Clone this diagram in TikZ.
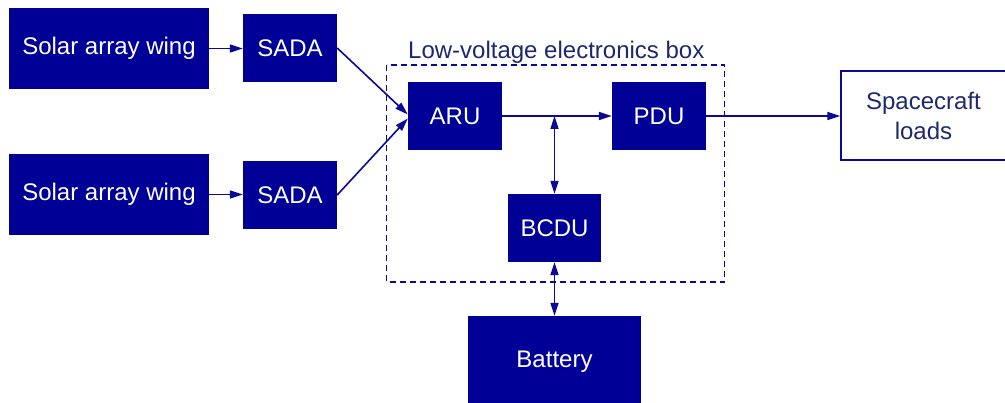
\documentclass[tikz,border=0pt]{standalone}
\usepackage{fontspec}
\setmainfont{Liberation Sans}
\usetikzlibrary{arrows.meta,calc}
\definecolor{boxblue}{RGB}{0,0,150}
\definecolor{lineblue}{RGB}{10,10,150}
\definecolor{labelblue}{RGB}{30,40,110}
\begin{document}
\begin{tikzpicture}[x=1pt,y=-1pt,
  blk/.style={fill=boxblue, draw=none, text=white, inner sep=0pt,
    font=\fontsize{24}{29}\selectfont},
  conn/.style={draw=lineblue, line width=1.6pt, -{Triangle[length=13pt,width=8pt]}},
  bconn/.style={draw=lineblue, line width=1.6pt, {Triangle[length=13pt,width=8pt]}-{Triangle[length=13pt,width=8pt]}},
  dashbox/.style={draw=lineblue, line width=1.4pt, dash pattern=on 6pt off 4pt},
  loadbox/.style={draw=lineblue, line width=1.4pt, fill=white, text=labelblue, inner sep=0pt,
    font=\fontsize{24}{30}\selectfont, align=center}]
\useasboundingbox (0,0) rectangle (1005,403);
\fill[white] (0,0) rectangle (1005,403);

% dashed electronics box
\draw[dashbox] (386.5,65) rectangle (724.5,282);
\node[anchor=base west, text=labelblue, inner sep=0pt, font=\fontsize{24}{29}\selectfont] (lvlabel) at (408,59) {Low-voltage electronics box};

% blocks
\node[blk, minimum width=200pt, minimum height=81pt] (saw1) at (109,48.5) {Solar array wing};
\node[blk, minimum width=200pt, minimum height=81pt] (saw2) at (109,194.5) {Solar array wing};
\node[blk, minimum width=94pt, minimum height=68pt, text depth=0pt] (sada1) at (290,48) {SADA};
\node[blk, minimum width=94pt, minimum height=68pt, text depth=0pt] (sada2) at (290,195) {SADA};
\node[blk, minimum width=94pt, minimum height=68pt, text depth=0pt] (aru) at (455,116) {ARU};
\node[blk, minimum width=94pt, minimum height=68pt, text depth=0pt] (pdu) at (659,116) {PDU};
\node[blk, minimum width=93pt, minimum height=68pt, text depth=0pt] (bcdu) at (554.5,228) {BCDU};
\node[blk, minimum width=173pt, minimum height=87pt, text depth=0pt] (batt) at (554.5,359.5) {Battery};
\node[loadbox, minimum width=165pt, minimum height=89pt] (loads) at (923.5,115.5) {Spacecraft\\loads};

% connectors
\draw[conn] (saw1.east) -- (saw1.east -| sada1.west);
\draw[conn] (saw2.east) -- (saw2.east -| sada2.west);
\draw[conn] (sada1.east) -- ($(aru.west)+(0,-1.5)$);
\draw[conn] (sada2.east) -- ($(aru.west)+(0,2.5)$);
\draw[conn] (aru.east) -- (pdu.west);
\coordinate (junc) at (bcdu.north |- aru.east);
\draw[bconn] (junc) -- (bcdu.north);
\draw[bconn] (bcdu.south) -- (batt.north);
\draw[conn] (pdu.east) -- (loads.west |- pdu.east);
\end{tikzpicture}
\end{document}
